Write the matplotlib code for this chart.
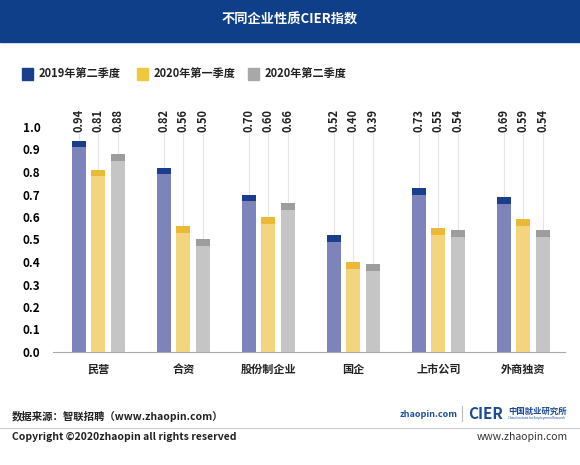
import matplotlib.pyplot as plt
import numpy as np
from matplotlib.patches import Rectangle

plt.rcParams['font.family'] = ['Noto Sans CJK SC', 'DejaVu Sans']

# 数据
categories = ['民营', '合资', '股份制企业', '国企', '上市公司', '外商独资']
series_names = ['2019年第二季度', '2020年第一季度', '2020年第二季度']
q2_2019 = [0.94, 0.82, 0.70, 0.52, 0.73, 0.69]
q1_2020 = [0.81, 0.56, 0.60, 0.40, 0.55, 0.59]
q2_2020 = [0.88, 0.50, 0.66, 0.39, 0.54, 0.54]
y_ticks = [0.0, 0.1, 0.2, 0.3, 0.4, 0.5, 0.6, 0.7, 0.8, 0.9, 1.0]

series = [q2_2019, q1_2020, q2_2020]
body_colors = ['#7d84ba', '#f3d47f', '#c5c5c5']
cap_colors = ['#1b3e8c', '#eab935', '#9d9d9d']
legend_colors = ['#1b3e8c', '#f0c840', '#a8a8a8']

W, H = 580, 465
fig = plt.figure(figsize=(5.8, 4.65), dpi=100)

# 标题栏
fig.patches.append(Rectangle((0, 1 - 42 / H), 1, 42 / H, transform=fig.transFigure,
                             color='#0f3f88', zorder=0))
fig.text(290 / W, 1 - 20 / H, '不同企业性质CIER指数', color='white', fontsize=9.5,
         fontweight='bold', ha='center', va='center')

# 图例
leg_x = [22, 137, 248]
for i, name in enumerate(series_names):
    fig.patches.append(Rectangle((leg_x[i] / W, 1 - 80 / H), 11 / W, 12 / H,
                                 transform=fig.transFigure, color=legend_colors[i]))
    fig.text((leg_x[i] + 17) / W, 1 - 74 / H, name, fontsize=8, color='#222222',
             fontweight='bold', ha='left', va='center')

# 坐标轴
ax = fig.add_axes([53 / W, 1 - 352 / H, 512 / W, 247.5 / H])
x = np.arange(len(categories))
width = 0.165
offset = 0.227
cap = 0.03

for i, vals in enumerate(series):
    xs = x + (i - 1) * offset
    vals = np.array(vals)
    ax.bar(xs, vals - cap, width, color=body_colors[i], zorder=3)
    ax.bar(xs, [cap] * len(vals), width, bottom=vals - cap, color=cap_colors[i], zorder=3)
    for xi, v in zip(xs, vals):
        ax.vlines(xi, v, 0.975, color='#e4e4e4', lw=0.8, zorder=1)
        ax.text(xi, 0.98, f'{v:.2f}', rotation=90, ha='center', va='bottom',
                fontsize=8, fontweight='bold', color='#222222')

ax.set_xlim(-0.535, 5.49)
ax.set_ylim(0, 1.1)
ax.set_yticks(y_ticks)
ax.set_yticklabels([f'{t:.1f}' for t in y_ticks], fontsize=8.5, fontweight='bold')
ax.set_xticks(x)
ax.set_xticklabels(categories, fontsize=8, color='#222222', fontweight='bold')
ax.tick_params(axis='both', length=0, pad=8)
ax.tick_params(axis='y', pad=9)
for s in ['top', 'right', 'left']:
    ax.spines[s].set_visible(False)
ax.spines['bottom'].set_color('#aaaaaa')
ax.spines['bottom'].set_linewidth(0.8)

# 页脚
fig.text(12 / W, 1 - 417 / H, '数据来源：智联招聘（www.zhaopin.com）', fontsize=7.5,
         fontweight='bold', color='#222222', ha='left', va='center')
fig.add_artist(plt.Line2D([0, 1], [1 - 428 / H, 1 - 428 / H], color='#cccccc', lw=0.8))
fig.text(12 / W, 1 - 437 / H, 'Copyright ©2020zhaopin all rights reserved', fontsize=7.5,
         fontweight='bold', color='#222222', ha='left', va='center')
fig.text(568 / W, 1 - 437 / H, 'www.zhaopin.com', fontsize=7.5, color='#333333',
         ha='right', va='center')

# 标志
fig.text(400 / W, 1 - 414 / H, 'zhaopin.com', fontsize=6.5, fontweight='bold',
         fontstyle='italic', color='#1f4fa0', ha='left', va='center')
fig.add_artist(plt.Line2D([462 / W, 462 / W], [1 - 406 / H, 1 - 421 / H],
                          color='#bbbbbb', lw=0.8))
fig.text(468 / W, 1 - 414 / H, 'CIER', fontsize=11, fontweight='bold', color='#1b4a96',
         ha='left', va='center')
fig.text(508 / W, 1 - 411 / H, '中国就业研究所', fontsize=6, fontweight='bold',
         color='#1b4a96', ha='left', va='center')
fig.text(508 / W, 1 - 418 / H, 'China Institute for Employment Research', fontsize=2.2,
         color='#1b4a96', ha='left', va='center')

fig.savefig('out.png', dpi=100)
